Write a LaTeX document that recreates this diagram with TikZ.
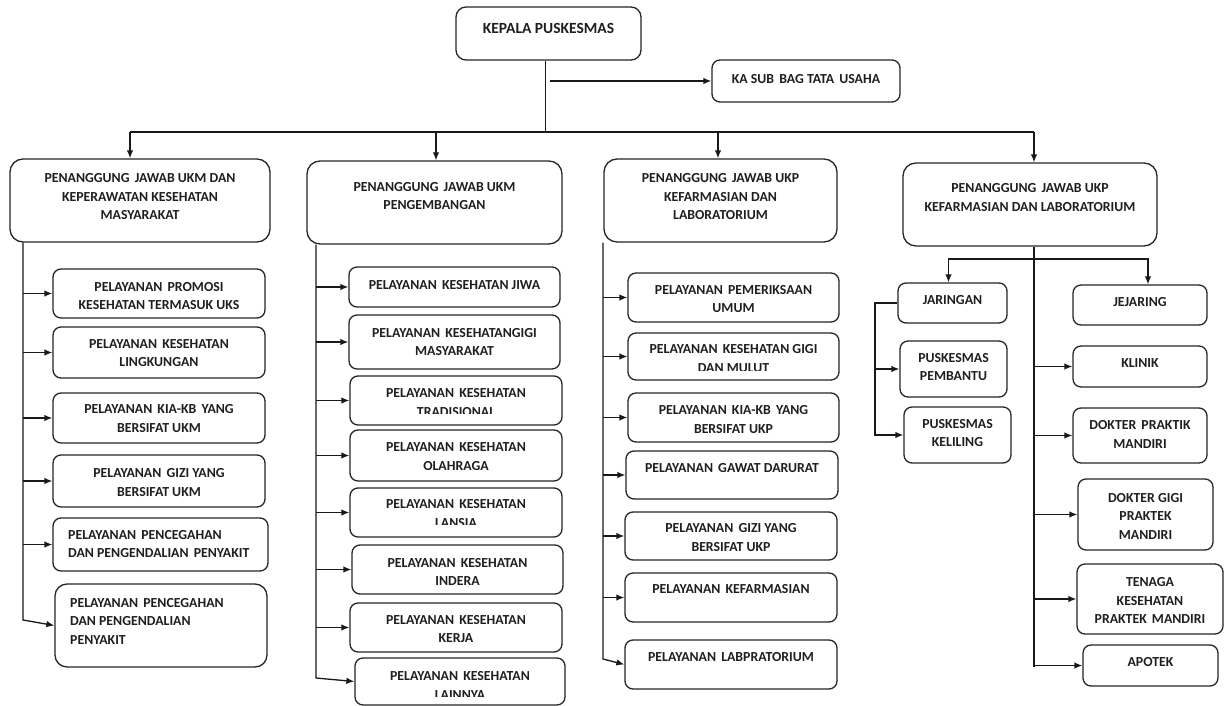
\documentclass[tikz,border=0pt]{standalone}
\usepackage{fontspec}
\setmainfont{Carlito}[BoldFont={Carlito Bold}]
\usetikzlibrary{arrows.meta,fit}
\newcommand\ds{\hspace{2pt}\ }
\tikzset{
  box/.style={draw=black!85, line width=1.3pt, rounded corners=8pt, inner sep=0pt},
  headbox/.style={rounded corners=13pt},
  txt/.style={align=center, inner sep=0pt, text=black!88, font=\bfseries\fontsize{13.8}{18.5}\selectfont},
  ltxt/.style={txt, align=left, anchor=west},
  conn/.style={draw=black!90, line width=1.3pt},
  arr/.style={conn, -{Latex[length=8pt,width=6.5pt]}},
}
\newcommand\bx[8][]{%
  \node[box,#1,fit={(#3,#4) (#5,#6)}] (#2) {};
  \node[txt] (#2t) at ({(#3+#5)/2},#7) {#8};}
\newcommand\bxc[8]{%
  \node[box,fit={(#2,#3) (#4,#5)}] (#1) {};
  \begin{scope}\clip (#2,#3) rectangle (#4,#7);
  \node[txt] (#1t) at ({(#2+#4)/2},#6) {#8};
  \end{scope}}
\begin{document}
\begin{tikzpicture}[x=1pt,y=-1pt]
\useasboundingbox[fill=white] (0,0) rectangle (1229,706);
% top
\node[box,rounded corners=10pt,fit={(456,7) (641,60)}] (KP) {};
\node[txt,font=\bfseries\fontsize{15.5}{18.5}\selectfont] (KPt) at (548.5,28) {KEPALA PUSKESMAS};
\bx{KS}{712}{60}{900}{102}{79}{KA SUB\ds BAG TATA\ds USAHA}
% heads
\bx[headbox]{H1}{10}{159}{270}{242}{197}{PENANGGUNG\ds JAWAB UKM DAN\\KEPERAWATAN KESEHATAN\\MASYARAKAT}
\bx[headbox]{H2}{307}{161}{562}{244}{196}{PENANGGUNG\ds JAWAB UKM\\PENGEMBANGAN}
\bx[headbox]{H3}{604}{159}{837}{242}{197}{PENANGGUNG\ds JAWAB UKP\\KEFARMASIAN DAN\\LABORATORIUM}
\bx[headbox]{H4}{903}{163}{1157}{246}{197.5}{PENANGGUNG\ds JAWAB UKP\\KEFARMASIAN DAN LABORATORIUM}
% column 1
\bx{A1}{53}{269}{265}{318}{296}{PELAYANAN\ds PROMOSI\\KESEHATAN TERMASUK UKS}
\bx{A2}{53}{327}{265}{378}{353}{PELAYANAN\ds KESEHATAN\\LINGKUNGAN}
\bx{A3}{53}{393}{265}{443}{418.5}{PELAYANAN\ds KIA-KB\ds YANG\\BERSIFAT UKM}
\bx{A4}{53}{455}{265}{507}{482.5}{PELAYANAN\ds GIZI YANG\\BERSIFAT UKM}
\node[box,fit={(53,518) (268,571)}] (A5) {};
\node[ltxt] (A5t) at (68,544) {PELAYANAN\ds PENCEGAHAN\\DAN PENGENDALIAN\ds PENYAKIT};
\node[box,rounded corners=12pt,fit={(55,584) (267,667)}] (A6) {};
\node[ltxt] (A6t) at (70,621) {PELAYANAN\ds PENCEGAHAN\\DAN PENGENDALIAN\\PENYAKIT};
% column 2
\bx{B1}{349}{267}{560}{307}{285}{PELAYANAN\ds KESEHATAN JIWA}
\bx{B2}{349}{315}{560}{369}{342}{PELAYANAN\ds KESEHATANGIGI\\MASYARAKAT}
\bxc{B3}{350}{376}{562}{425}{402.5}{413}{PELAYANAN\ds KESEHATAN\\TRADISIONAL}
\bx{B4}{350}{430}{562}{481}{456.5}{PELAYANAN\ds KESEHATAN\\OLAHRAGA}
\bxc{B5}{350}{488}{562}{537}{513.5}{524}{PELAYANAN\ds KESEHATAN\\LANSIA}
\bx{B6}{352}{545}{563}{594}{572}{PELAYANAN\ds KESEHATAN\\INDERA}
\bx{B7}{350}{603}{562}{652}{629}{PELAYANAN\ds KESEHATAN\\KERJA}
\bxc{B8}{355}{658}{565}{705}{685.5}{696}{PELAYANAN\ds KESEHATAN\\LAINNYA}
% column 3
\bxc{C1}{628}{273}{839}{322}{299}{311}{PELAYANAN\ds PEMERIKSAAN\\UMUM}
\bxc{C2}{628}{333}{839}{380}{358.5}{370}{PELAYANAN\ds KESEHATAN GIGI\\DAN MULUT}
\bx{C3}{628}{393}{839}{442}{419.5}{PELAYANAN\ds KIA-KB\ds YANG\\BERSIFAT UKP}
\bx{C4}{626}{451}{838}{499}{468}{PELAYANAN\ds GAWAT DARURAT}
\bx{C5}{625}{512}{837}{560}{537.5}{PELAYANAN\ds GIZI YANG\\BERSIFAT UKP}
\bx{C6}{625}{573}{837}{622}{589}{PELAYANAN\ds KEFARMASIAN}
\bx{C7}{625}{640}{837}{689}{657}{PELAYANAN\ds LABPRATORIUM}
% column 4
\bx{JAR}{898}{283}{1007}{323}{300}{JARINGAN}
\bx{JEJ}{1073}{285}{1207}{325}{302}{JEJARING}
\bx{PP}{900}{341}{1007}{397}{367}{PUSKESMAS\\PEMBANTU}
\bx{PK}{904}{407}{1011}{463}{433}{PUSKESMAS\\KELILING}
\bx{KL}{1073}{346}{1207}{387}{363}{KLINIK}
\bx{DPM}{1073}{408}{1207}{463}{434.5}{DOKTER\ds PRAKTIK\\MANDIRI}
\bx{DG}{1078}{479}{1213}{550}{516}{DOKTER GIGI\\PRAKTEK\\MANDIRI}
\bx{TN}{1077}{564}{1223}{634}{600.5}{TENAGA\\KESEHATAN\\PRAKTEK\ds MANDIRI}
\bx{AP}{1083}{645}{1218}{686}{662}{APOTEK}
% helper coordinates
\coordinate (bus) at (0,132);
\coordinate (s1) at (23,620);
\coordinate (s2) at (316,678);
\coordinate (s3) at (603,659);
\coordinate (e4) at (1034,667);
\coordinate (br) at (0,259);
\coordinate (jx) at (875,0);
% top connectors
\draw[conn] ([xshift=-3pt]KP.south) -- ([xshift=-3pt]KP.south |- bus);
\draw[arr] ([xshift=1pt]KP.south |- KS.west) -- (KS.west);
\draw[conn] ([xshift=-10pt]H1.north |- bus) -- ([xshift=4pt]H4.north |- bus);
\draw[arr] ([xshift=-10pt]H1.north |- bus) -- ([xshift=-10pt]H1.north);
\draw[arr] ([xshift=1.5pt]H2.north |- bus) -- ([xshift=1.5pt]H2.north);
\draw[arr] ([xshift=-2.5pt]H3.north |- bus) -- ([xshift=-2.5pt]H3.north);
\draw[arr] ([xshift=4pt]H4.north |- bus) -- ([xshift=4pt]H4.north);
% column 1
\draw[arr] (s1 |- H1.south) -- (s1) -- (A6.west);
\foreach \n in {A1,A2,A3,A4,A5} \draw[arr] (s1 |- \n.west) -- (\n.west);
% column 2
\draw[arr] (s2 |- H2.south) -- (s2) -- (B8.west);
\foreach \n in {B1,B2,B3,B4,B5,B6,B7} \draw[arr] (s2 |- \n.west) -- (\n.west);
% column 3
\draw[arr] (s3 |- H3.south) -- (s3) -- (C7.west);
\foreach \n in {C1,C2,C3,C4,C5,C6} \draw[arr] (s3 |- \n.west) -- (\n.west);
% column 4
\draw[conn] (e4 |- H4.south) -- (e4);
\foreach \n in {KL,DPM,DG,TN,AP} \draw[arr] (e4 |- \n.west) -- (\n.west);
\draw[arr] (e4 |- br) -| ([xshift=-4pt]JAR.north);
\draw[arr] (e4 |- br) -| ([xshift=8pt]JEJ.north);
\draw[arr] (JAR.west) -- (JAR.west -| jx) |- (PK.west);
\draw[arr] (jx |- PP.west) -- (PP.west);
\end{tikzpicture}
\end{document}
